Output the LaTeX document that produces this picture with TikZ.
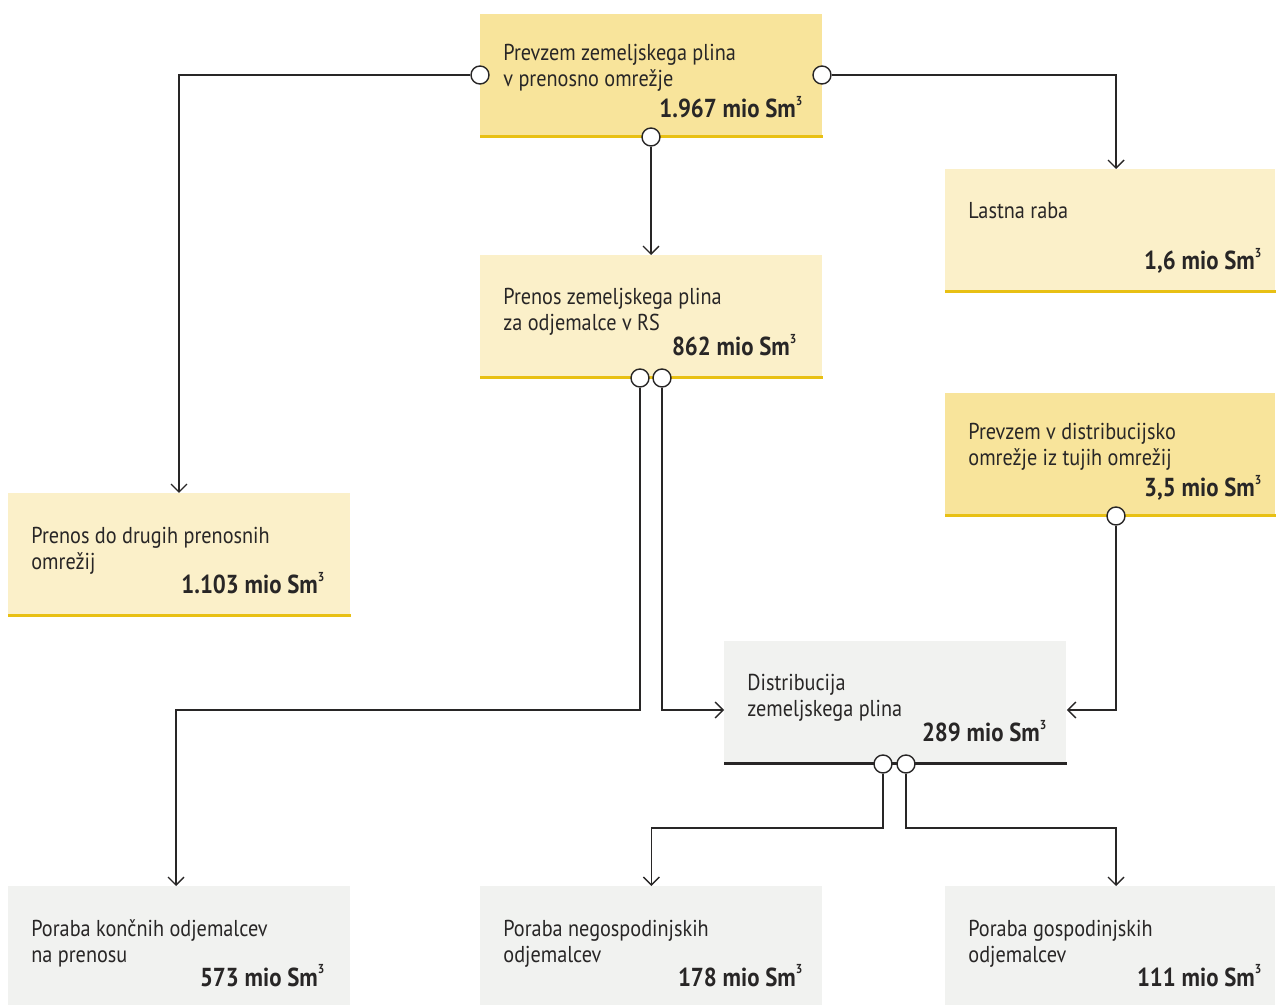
\documentclass[tikz,border=0pt]{standalone}
\usepackage{fontspec}
\setmainfont{PT Sans}[FakeStretch=0.88]
\usetikzlibrary{arrows.meta}
\definecolor{ydark}{RGB}{248,228,155}
\definecolor{ylight}{RGB}{251,240,201}
\definecolor{grayfill}{RGB}{241,242,240}
\definecolor{gold}{RGB}{232,192,20}
\definecolor{ink}{RGB}{40,38,38}
\newcommand{\mio}[1]{\textbf{#1 mio Sm\raisebox{0.95ex}{\fontsize{6.5}{7}\selectfont 3}}}
\begin{document}
\begin{tikzpicture}[
  x=0.5pt,y=-0.5pt,
  >={Straight Barb[length=4pt,width=8pt]},
  box/.style={rectangle,draw=none,inner sep=0pt,minimum width=171pt,minimum height=61pt,anchor=north west},
  sidebox/.style={box,minimum width=165pt},
  title/.style={anchor=base west,align=left,inner sep=0pt,font=\fontsize{11.5}{13}\selectfont,text=ink},
  value/.style={anchor=base east,inner sep=0pt,font=\fontsize{13}{15}\selectfont,text=ink},
  edge/.style={->,draw=ink,line width=0.7pt},
  port/.style={circle,draw=ink,fill=white,line width=0.7pt,minimum size=9pt,inner sep=0pt}
]
\useasboundingbox (0,0) rectangle (1276,1005);
% boxes
\node[box,fill=ydark] (prevzem) at (480,14) {};
\node[sidebox,fill=ylight] (lastna) at (945,169) {};
\node[box,fill=ylight] (prenosrs) at (480,255) {};
\node[sidebox,fill=ydark] (prevzemdist) at (945,393) {};
\node[box,fill=ylight] (drugih) at (8,493) {};
\node[box,fill=grayfill] (distr) at (724,641) {};
\node[box,fill=grayfill,minimum height=60pt] (konc) at (8,886) {};
\node[box,fill=grayfill,minimum height=60pt] (negosp) at (480,886) {};
\node[sidebox,fill=grayfill,minimum height=60pt] (gosp) at (945,886) {};
% bottom rules
\draw[gold,line width=1.5pt] (prevzem.south west)--(prevzem.south east);
\draw[gold,line width=1.5pt] (lastna.south west)--(lastna.south east);
\draw[gold,line width=1.5pt] (prenosrs.south west)--(prenosrs.south east);
\draw[gold,line width=1.5pt] (prevzemdist.south west)--(prevzemdist.south east);
\draw[gold,line width=1.5pt] (drugih.south west)--(drugih.south east);
\draw[ink,line width=1.5pt] (distr.south west)--(distr.south east);
% texts
\node[title] (tprevzem) at ([shift={(23,73)}]prevzem.north west) {Prevzem zemeljskega plina\\v prenosno omrežje};
\node[value] (vprevzem) at ([shift={(-20,104)}]prevzem.north east) {\mio{1.967}};
\node[title] (tlastna) at ([shift={(23,50)}]lastna.north west) {Lastna raba};
\node[value] (vlastna) at ([shift={(-14,101)}]lastna.north east) {\mio{1,6}};
\node[title] (tprenosrs) at ([shift={(23,76)}]prenosrs.north west) {Prenos zemeljskega plina\\za odjemalce v RS};
\node[value] (vprenosrs) at ([shift={(-26,101)}]prenosrs.north east) {\mio{862}};
\node[title] (tprevzemdist) at ([shift={(23,73)}]prevzemdist.north west) {Prevzem v distribucijsko\\omrežje iz tujih omrežij};
\node[value] (vprevzemdist) at ([shift={(-14,104)}]prevzemdist.north east) {\mio{3,5}};
\node[title] (tdrugih) at ([shift={(23,77)}]drugih.north west) {Prenos do drugih prenosnih\\omrežij};
\node[value] (vdrugih) at ([shift={(-26,101)}]drugih.north east) {\mio{1.103}};
\node[title] (tdistr) at ([shift={(23,76)}]distr.north west) {Distribucija\\zemeljskega plina};
\node[value] (vdistr) at ([shift={(-20,101)}]distr.north east) {\mio{289}};
\node[title] (tkonc) at ([shift={(23,76)}]konc.north west) {Poraba končnih odjemalcev\\na prenosu};
\node[value] (vkonc) at ([shift={(-26,100)}]konc.north east) {\mio{573}};
\node[title] (tnegosp) at ([shift={(23,76)}]negosp.north west) {Poraba negospodinjskih\\odjemalcev};
\node[value] (vnegosp) at ([shift={(-20,100)}]negosp.north east) {\mio{178}};
\node[title] (tgosp) at ([shift={(23,76)}]gosp.north west) {Poraba gospodinjskih\\odjemalcev};
\node[value] (vgosp) at ([shift={(-14,100)}]gosp.north east) {\mio{111}};
% connectors
\coordinate (a1) at (179,75);
\coordinate (a2) at (1116,75);
\coordinate (b1) at (640,710);
\coordinate (b2) at (176,710);
\coordinate (c1) at (1116,710);
\coordinate (d1) at (883,828);
\coordinate (d2) at (906,828);
\node[port] (p1) at (480,75) {};
\node[port] (p2) at (822,75) {};
\node[port] (p3) at (651,137) {};
\node[port] (p4) at (640,378) {};
\node[port] (p5) at (662,378) {};
\node[port] (p6) at (1116,516) {};
\node[port] (p7) at (883,764) {};
\node[port] (p8) at (906,764) {};
\draw[edge] (p1)--(a1)--(drugih.north west-|a1);
\draw[edge] (p2)--(a2)--(lastna.north west-|a2);
\draw[edge] (p3)--(prenosrs.north west-|p3);
\draw[edge] (p4)--(b1)--(b2)--(konc.north west-|b2);
\draw[edge] (p5)--(p5|-b1)--(b1-|distr.west);
\draw[edge] (p6)--(c1)--(c1-|distr.east);
\draw[edge] (p7)--(d1)--(d1-|negosp.north)--(negosp.north);
\draw[edge] (p8)--(d2)--(d2-|a2)--(gosp.north west-|a2);
\end{tikzpicture}
\end{document}
